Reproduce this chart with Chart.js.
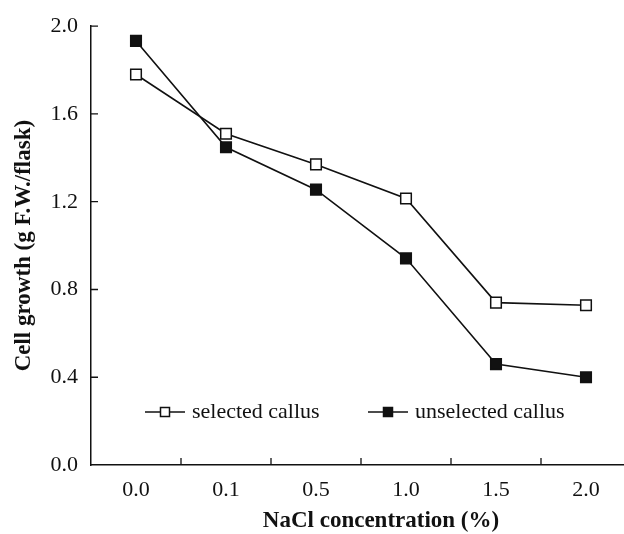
<!DOCTYPE html>
<html>
<head>
<meta charset="utf-8">
<script src="https://cdn.jsdelivr.net/npm/chart.js@4.4.1/dist/chart.umd.min.js"></script>
<style>
  html, body { margin: 0; padding: 0; overflow: hidden; background: #fff; }
  canvas { display: block; }
</style>
</head>
<body>
<canvas id="chart" width="640" height="534"></canvas>
<script>
const categories = ['0.0', '0.1', '0.5', '1.0', '1.5', '2.0'];
const selected = [1.78, 1.51, 1.37, 1.215, 0.74, 0.728];
const unselected = [1.933, 1.448, 1.255, 0.942, 0.46, 0.40];
const seriesNames = ['selected callus', 'unselected callus'];
const xTitle = 'NaCl concentration (%)';
const yTitle = 'Cell growth (g F.W./flask)';

const SERIF = '"Liberation Serif", "Times New Roman", serif';
const INK = '#111';

// inward tick marks (chart.js only draws them outward)
const innerTicks = {
  id: 'innerTicks',
  afterDraw(chart) {
    const ctx = chart.ctx;
    const x = chart.scales.x, y = chart.scales.y;
    const a = chart.chartArea;
    ctx.save();
    ctx.strokeStyle = INK;
    ctx.lineWidth = 1.3;
    ctx.beginPath();
    y.ticks.forEach((t, i) => {
      if (t.value === 0) return;
      const py = y.getPixelForTick(i);
      ctx.moveTo(a.left, py);
      ctx.lineTo(a.left + 7, py);
    });
    for (let i = 0; i < categories.length - 1; i++) {
      const px = (x.getPixelForTick(i) + x.getPixelForTick(i + 1)) / 2;
      ctx.moveTo(px, a.bottom);
      ctx.lineTo(px, a.bottom - 7);
    }
    ctx.stroke();
    ctx.restore();
  }
};

// legend inside the plot area, line + marker + label
const innerLegend = {
  id: 'innerLegend',
  afterDraw(chart) {
    const ctx = chart.ctx;
    const spots = [145, 368];
    const ly = 412;
    ctx.save();
    chart.data.datasets.forEach((ds, i) => {
      const x0 = spots[i];
      ctx.strokeStyle = INK;
      ctx.lineWidth = 1.6;
      ctx.beginPath();
      ctx.moveTo(x0, ly);
      ctx.lineTo(x0 + 40, ly);
      ctx.stroke();
      ctx.fillStyle = ds.pointBackgroundColor;
      ctx.lineWidth = 1.5;
      ctx.fillRect(x0 + 15.5, ly - 4.5, 9, 9);
      ctx.strokeRect(x0 + 15.5, ly - 4.5, 9, 9);
      ctx.fillStyle = INK;
      ctx.font = '22px ' + SERIF;
      ctx.textBaseline = 'middle';
      ctx.textAlign = 'left';
      ctx.fillText(ds.label, x0 + 47, ly);
    });
    // x axis title, placed where the original figure has it
    ctx.font = 'bold 23px ' + SERIF;
    ctx.textAlign = 'center';
    ctx.textBaseline = 'middle';
    ctx.fillText(xTitle, 381, 521);
    ctx.restore();
  }
};

const ctx = document.getElementById('chart').getContext('2d');

new Chart(ctx, {
  type: 'line',
  data: {
    labels: categories,
    datasets: [{
      label: seriesNames[0],
      data: selected,
      borderColor: INK,
      borderWidth: 1.6,
      pointStyle: 'rect',
      pointRadius: 7.5,
      pointBorderWidth: 1.5,
      pointBorderColor: INK,
      pointBackgroundColor: '#ffffff',
      tension: 0,
      fill: false
    }, {
      label: seriesNames[1],
      data: unselected,
      borderColor: INK,
      borderWidth: 1.6,
      pointStyle: 'rect',
      pointRadius: 7.5,
      pointBorderWidth: 1.5,
      pointBorderColor: INK,
      pointBackgroundColor: INK,
      tension: 0,
      fill: false
    }]
  },
  options: {
    responsive: false,
    animation: false,
    layout: { padding: { left: 0, right: 7, top: 24, bottom: 0 } },
    plugins: {
      legend: { display: false },
      tooltip: { enabled: false }
    },
    scales: {
      x: {
        type: 'category',
        offset: true,
        grid: { display: false, drawTicks: false },
        border: { display: true, color: INK, width: 1.5 },
        ticks: {
          color: INK,
          padding: 12,
          maxRotation: 0,
          font: { family: SERIF, size: 22 }
        },
        title: { display: false, text: xTitle },
        afterFit(s) { s.height = 69; }
      },
      y: {
        min: 0,
        max: 2,
        grid: { display: false, drawTicks: false },
        border: { display: true, color: INK, width: 1.5 },
        ticks: {
          stepSize: 0.4,
          color: INK,
          padding: 13,
          font: { family: SERIF, size: 22 },
          callback: v => v.toFixed(1)
        },
        title: {
          display: true,
          text: yTitle,
          color: INK,
          padding: { top: 10, bottom: 0 },
          font: { family: SERIF, size: 23, weight: 'bold' }
        },
        afterFit(s) { s.width = 91; }
      }
    }
  },
  plugins: [innerTicks, innerLegend]
});
</script>
</body>
</html>
